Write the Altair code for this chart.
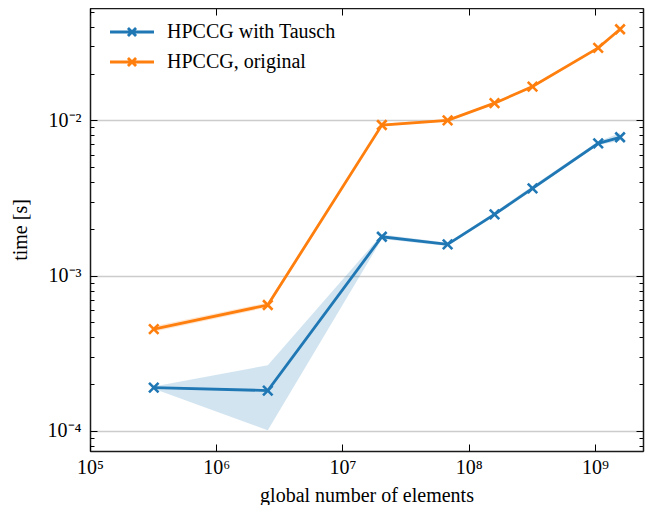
import math
import altair as alt
import pandas as pd

# ---------------- data ----------------
series_names = ["HPCCG with Tausch", "HPCCG, original"]
series_colors = ["#1f77b4", "#ff7f0e"]

elements = [3.2e5, 2.56e6, 2.05e7, 6.8e7, 1.6e8, 3.2e8, 1.06e9, 1.58e9]

tausch_time = [1.90e-4, 1.82e-4, 1.78e-3, 1.59e-3, 2.48e-3, 3.65e-3, 7.11e-3, 7.78e-3]
tausch_low = [1.87e-4, 1.01e-4, 1.72e-3, 1.55e-3, 2.42e-3, 3.55e-3, 6.95e-3, 7.40e-3]
tausch_high = [1.93e-4, 2.65e-4, 1.84e-3, 1.63e-3, 2.55e-3, 3.78e-3, 7.30e-3, 8.30e-3]

orig_time = [4.53e-4, 6.47e-4, 9.33e-3, 1.00e-2, 1.29e-2, 1.65e-2, 2.93e-2, 3.86e-2]
orig_low = [4.35e-4, 6.25e-4, 9.15e-3, 9.85e-3, 1.27e-2, 1.62e-2, 2.89e-2, 3.80e-2]
orig_high = [4.72e-4, 6.70e-4, 9.50e-3, 1.02e-2, 1.31e-2, 1.68e-2, 2.97e-2, 3.92e-2]

x_major = [1e5, 1e6, 1e7, 1e8, 1e9]
x_labels = ["10⁵", "10⁶", "10⁷", "10⁸", "10⁹"]
y_major = [1e-4, 1e-3, 1e-2]
y_labels = ["10⁻⁴", "10⁻³", "10⁻²"]
y_minor = [8e-5, 9e-5,
           2e-4, 3e-4, 4e-4, 5e-4, 6e-4, 7e-4, 8e-4, 9e-4,
           2e-3, 3e-3, 4e-3, 5e-3, 6e-3, 7e-3, 8e-3, 9e-3,
           2e-2, 3e-2, 4e-2, 5e-2]

x_domain = [1e5, 2.4e9]
y_domain = [7.43e-5, 5.29e-2]

# ---------------- table ----------------
rows = []
for name, t, lo, hi in [(series_names[0], tausch_time, tausch_low, tausch_high),
                        (series_names[1], orig_time, orig_low, orig_high)]:
    for e, v, l, h in zip(elements, t, lo, hi):
        rows.append({"series": name, "elements": e, "time": v, "low": l, "high": h})
df = pd.DataFrame(rows)

FONT = "Liberation Serif"
FRAME = "#1a1a1a"
FRAME_W = 1.5


def label_expr(values, labels):
    parts = [f"abs(log(datum.value)/LN10 - ({math.log10(v):.4f})) < 0.01 ? '{l}' : "
             for v, l in zip(values, labels)]
    return "".join(parts) + "''"


xs = alt.Scale(type="log", domain=x_domain, nice=False)
ys = alt.Scale(type="log", domain=y_domain, nice=False)
color_scale = alt.Scale(domain=series_names, range=series_colors)

MAJ = 7
MIN = 4


def tick_axis(orient, values, size):
    return alt.Axis(orient=orient, values=values, labels=False, domain=False, grid=False,
                    ticks=True, tickSize=size, offset=-size, tickColor="black",
                    tickWidth=1, title=None, zindex=1)


def frame_axis(orient):
    return alt.Axis(orient=orient, values=x_major if orient == "top" else y_major,
                    labels=False, ticks=False, grid=False, domain=True,
                    domainColor=FRAME, domainWidth=FRAME_W, title=None, zindex=1)


ax_x_lab = alt.Axis(orient="bottom", values=x_major, labelExpr=label_expr(x_major, x_labels),
                    ticks=False, domain=True, domainColor=FRAME, domainWidth=FRAME_W,
                    grid=False, labelFlush=False, labelOverlap=False, zindex=1,
                    labelFont=FONT, labelFontSize=20, labelColor="black", labelPadding=6,
                    title="global number of elements", titleFont=FONT, titleFontSize=20,
                    titleFontWeight="normal", titleColor="black", titlePadding=8)
ax_y_lab = alt.Axis(orient="left", values=y_major, labelExpr=label_expr(y_major, y_labels),
                    ticks=False, domain=True, domainColor=FRAME, domainWidth=FRAME_W,
                    grid=True, gridColor="#cccccc", gridWidth=1.5,
                    labelFlush=False, labelOverlap=False,
                    labelFont=FONT, labelFontSize=20, labelColor="black", labelPadding=9,
                    title="time [s]", titleFont=FONT, titleFontSize=20,
                    titleFontWeight="normal", titleColor="black", titlePadding=17)

x_path = "M-1,-1L1,1M-1,1L1,-1"
legend_path = "M-3,0L3,0M-0.55,-0.55L0.55,0.55M-0.55,0.55L0.55,-0.55"

legend = alt.Legend(title=None, orient="none", legendX=32, legendY=14,
                    symbolType=legend_path, symbolSize=215, symbolStrokeWidth=2.8,
                    symbolFillColor="transparent",
                    labelFont=FONT, labelFontSize=20, labelColor="black", labelLimit=400,
                    labelOffset=25, rowPadding=10, padding=0)

base = alt.Chart(df)

band_blue = base.transform_filter(alt.datum.series == series_names[0]).mark_area(
    opacity=0.2, color=series_colors[0]
).encode(
    x=alt.X("elements:Q", scale=xs, axis=ax_x_lab),
    y=alt.Y("low:Q", scale=ys, axis=ax_y_lab),
    y2="high:Q",
)

band_orange = base.transform_filter(alt.datum.series == series_names[1]).mark_area(
    opacity=0.2, color=series_colors[1]
).encode(
    x=alt.X("elements:Q", scale=xs, axis=tick_axis("top", x_major, MAJ)),
    y=alt.Y("low:Q", scale=ys, axis=tick_axis("right", y_major, MAJ)),
    y2="high:Q",
)

line = base.mark_line(strokeWidth=2.8).encode(
    x=alt.X("elements:Q", scale=xs, axis=tick_axis("bottom", x_major, MAJ)),
    y=alt.Y("time:Q", scale=ys, axis=tick_axis("left", y_major, MAJ)),
    color=alt.Color("series:N", scale=color_scale, legend=legend),
)

points = base.mark_point(shape=x_path, filled=False, size=90, strokeWidth=2.6, opacity=1).encode(
    x=alt.X("elements:Q", scale=xs, axis=frame_axis("top")),
    y=alt.Y("time:Q", scale=ys, axis=tick_axis("left", y_minor, MIN)),
    color=alt.Color("series:N", scale=color_scale, legend=legend),
)

ghost1 = base.mark_point(opacity=0).encode(
    x=alt.X("elements:Q", scale=xs, axis=None),
    y=alt.Y("time:Q", scale=ys, axis=tick_axis("right", y_minor, MIN)),
)

ghost2 = base.mark_point(opacity=0).encode(
    x=alt.X("elements:Q", scale=xs, axis=None),
    y=alt.Y("time:Q", scale=ys, axis=frame_axis("right")),
)

chart = alt.layer(band_blue, band_orange, line, points, ghost1, ghost2).resolve_axis(
    x="independent", y="independent"
).properties(
    width=553, height=443,
    autosize=alt.AutoSizeParams(type="none"),
    padding={"left": 82, "top": 0, "right": 3, "bottom": 54},
).configure_view(
    stroke=FRAME, strokeWidth=1
)

chart.save("out.html", embed_options={"renderer": "svg", "actions": False})
